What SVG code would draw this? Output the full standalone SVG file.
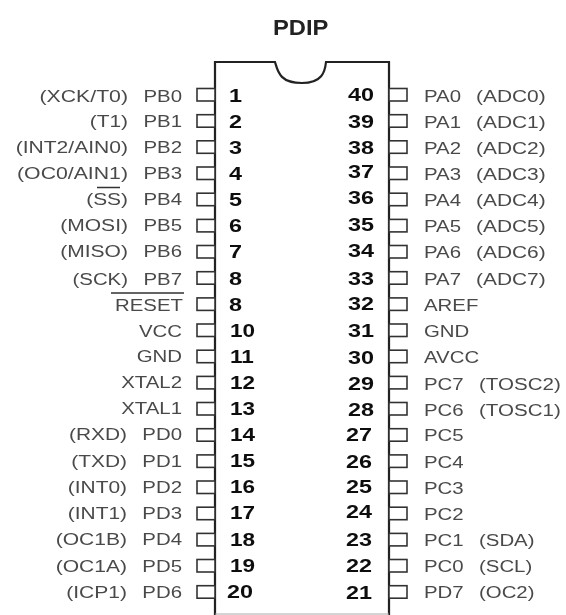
<svg xmlns="http://www.w3.org/2000/svg" width="566" height="615" viewBox="0 0 566 615">
<defs><filter id="soft" x="-5%" y="-5%" width="110%" height="110%"><feGaussianBlur stdDeviation="0.7"/></filter></defs>
<style>
text{font-family:"Liberation Sans",Arial,sans-serif}
.l,.r{font-size:17px;fill:#4a4a4a}
.l{text-anchor:end}
.e{text-anchor:end}
.n{font-size:18px;font-weight:700;fill:#111}
.t{font-size:22px;fill:#222;font-weight:700}
.p{fill:#fff;stroke:#333;stroke-width:1.6}
.b{fill:none;stroke:#222;stroke-width:2.2}
.o{fill:none;stroke:#333;stroke-width:1.6}
</style>
<rect width="566" height="615" fill="#fff"/>
<g filter="url(#soft)">
<text id="title" class="t" transform="translate(273 35) scale(1.08 1)">PDIP</text>
<g id="chip"><path class="b" d="M215 615V62H275C278 72 280 83 302 83C322 83 325 72 326 62H389V615"/><path d="M215 614H389" fill="none" stroke="#aaa" stroke-width="1.2"/></g>
<g id="connectors">
<path class="o" d="M97 187.500H120M111 293H184"/>
</g>
<g id="pin1"><rect class="p" x="197" y="88.500" width="18" height="12.500"/><text class="l" transform="translate(182 102) scale(1.2 1)">PB0</text><text class="l" transform="translate(128 102) scale(1.25 1)">(XCK/T0)</text><text class="n" transform="translate(229 102) scale(1.3 1)">1</text></g>
<g id="pin2"><rect class="p" x="197" y="114.700" width="18" height="12.500"/><text class="l" transform="translate(182 127) scale(1.2 1)">PB1</text><text class="l" transform="translate(128 127) scale(1.23 1)">(T1)</text><text class="n" transform="translate(229 128) scale(1.3 1)">2</text></g>
<g id="pin3"><rect class="p" x="197" y="140.800" width="18" height="12.500"/><text class="l" transform="translate(182 153) scale(1.2 1)">PB2</text><text class="l" transform="translate(128 153) scale(1.24 1)">(INT2/AIN0)</text><text class="n" transform="translate(229 154) scale(1.3 1)">3</text></g>
<g id="pin4"><rect class="p" x="197" y="167" width="18" height="12.500"/><text class="l" transform="translate(182 179) scale(1.2 1)">PB3</text><text class="l" transform="translate(128 179) scale(1.25 1)">(OC0/AIN1)</text><text class="n" transform="translate(229 180) scale(1.3 1)">4</text></g>
<g id="pin5"><rect class="p" x="197" y="193.200" width="18" height="12.500"/><text class="l" transform="translate(182 205) scale(1.2 1)">PB4</text><text class="l" transform="translate(128 205) scale(1.23 1)">(SS)</text><text class="n" transform="translate(229 206) scale(1.3 1)">5</text></g>
<g id="pin6"><rect class="p" x="197" y="219.400" width="18" height="12.500"/><text class="l" transform="translate(182 231) scale(1.2 1)">PB5</text><text class="l" transform="translate(128 231) scale(1.24 1)">(MOSI)</text><text class="n" transform="translate(229 232) scale(1.3 1)">6</text></g>
<g id="pin7"><rect class="p" x="197" y="245.500" width="18" height="12.500"/><text class="l" transform="translate(182 257) scale(1.2 1)">PB6</text><text class="l" transform="translate(128 257) scale(1.24 1)">(MISO)</text><text class="n" transform="translate(229 258) scale(1.3 1)">7</text></g>
<g id="pin8"><rect class="p" x="197" y="271.700" width="18" height="12.500"/><text class="l" transform="translate(182 285) scale(1.2 1)">PB7</text><text class="l" transform="translate(128 285) scale(1.2 1)">(SCK)</text><text class="n" transform="translate(229 285) scale(1.3 1)">8</text></g>
<g id="pin9"><rect class="p" x="197" y="297.900" width="18" height="12.500"/><text class="l" transform="translate(183 311) scale(1.2 1)">RESET</text><text class="n" transform="translate(229 311) scale(1.3 1)">8</text></g>
<g id="pin10"><rect class="p" x="197" y="324" width="18" height="12.500"/><text class="l" transform="translate(182 337) scale(1.2 1)">VCC</text><text class="n" transform="translate(230 337) scale(1.25 1)">10</text></g>
<g id="pin11"><rect class="p" x="197" y="350.200" width="18" height="12.500"/><text class="l" transform="translate(182 362) scale(1.2 1)">GND</text><text class="n" transform="translate(230 363) scale(1.25 1)">11</text></g>
<g id="pin12"><rect class="p" x="197" y="376.400" width="18" height="12.500"/><text class="l" transform="translate(182 388) scale(1.2 1)">XTAL2</text><text class="n" transform="translate(230 389) scale(1.25 1)">12</text></g>
<g id="pin13"><rect class="p" x="197" y="402.500" width="18" height="12.500"/><text class="l" transform="translate(182 414) scale(1.2 1)">XTAL1</text><text class="n" transform="translate(230 415) scale(1.25 1)">13</text></g>
<g id="pin14"><rect class="p" x="197" y="428.700" width="18" height="12.500"/><text class="l" transform="translate(182 440) scale(1.2 1)">PD0</text><text class="l" transform="translate(127 440) scale(1.23 1)">(RXD)</text><text class="n" transform="translate(230 441) scale(1.25 1)">14</text></g>
<g id="pin15"><rect class="p" x="197" y="454.900" width="18" height="12.500"/><text class="l" transform="translate(182 467) scale(1.2 1)">PD1</text><text class="l" transform="translate(127 467) scale(1.23 1)">(TXD)</text><text class="n" transform="translate(230 467) scale(1.25 1)">15</text></g>
<g id="pin16"><rect class="p" x="197" y="481" width="18" height="12.500"/><text class="l" transform="translate(182 493) scale(1.2 1)">PD2</text><text class="l" transform="translate(127 493) scale(1.23 1)">(INT0)</text><text class="n" transform="translate(230 493) scale(1.25 1)">16</text></g>
<g id="pin17"><rect class="p" x="197" y="507.200" width="18" height="12.500"/><text class="l" transform="translate(182 519) scale(1.2 1)">PD3</text><text class="l" transform="translate(127 519) scale(1.23 1)">(INT1)</text><text class="n" transform="translate(230 519) scale(1.25 1)">17</text></g>
<g id="pin18"><rect class="p" x="197" y="533.400" width="18" height="12.500"/><text class="l" transform="translate(182 545) scale(1.2 1)">PD4</text><text class="l" transform="translate(127 545) scale(1.24 1)">(OC1B)</text><text class="n" transform="translate(230 546) scale(1.25 1)">18</text></g>
<g id="pin19"><rect class="p" x="197" y="559.500" width="18" height="12.500"/><text class="l" transform="translate(182 572) scale(1.2 1)">PD5</text><text class="l" transform="translate(127 572) scale(1.24 1)">(OC1A)</text><text class="n" transform="translate(230 572) scale(1.25 1)">19</text></g>
<g id="pin20"><rect class="p" x="197" y="585.700" width="18" height="12.500"/><text class="l" transform="translate(182 598) scale(1.2 1)">PD6</text><text class="l" transform="translate(127 598) scale(1.24 1)">(ICP1)</text><text class="n" transform="translate(227 598) scale(1.3 1)">20</text></g>
<g id="pin40"><rect class="p" x="389" y="88.500" width="18" height="12.500"/><text class="n e" transform="translate(374 101) scale(1.3 1)">40</text><text class="r" transform="translate(424 102) scale(1.2 1)">PA0</text><text class="r" transform="translate(476 102) scale(1.23 1)">(ADC0)</text></g>
<g id="pin39"><rect class="p" x="389" y="114.700" width="18" height="12.500"/><text class="n e" transform="translate(374 128) scale(1.3 1)">39</text><text class="r" transform="translate(424 128) scale(1.2 1)">PA1</text><text class="r" transform="translate(476 128) scale(1.23 1)">(ADC1)</text></g>
<g id="pin38"><rect class="p" x="389" y="140.800" width="18" height="12.500"/><text class="n e" transform="translate(374 154) scale(1.3 1)">38</text><text class="r" transform="translate(424 154) scale(1.2 1)">PA2</text><text class="r" transform="translate(476 154) scale(1.23 1)">(ADC2)</text></g>
<g id="pin37"><rect class="p" x="389" y="167" width="18" height="12.500"/><text class="n e" transform="translate(374 178) scale(1.3 1)">37</text><text class="r" transform="translate(424 180) scale(1.2 1)">PA3</text><text class="r" transform="translate(476 180) scale(1.23 1)">(ADC3)</text></g>
<g id="pin36"><rect class="p" x="389" y="193.200" width="18" height="12.500"/><text class="n e" transform="translate(374 204) scale(1.3 1)">36</text><text class="r" transform="translate(424 206) scale(1.2 1)">PA4</text><text class="r" transform="translate(476 206) scale(1.23 1)">(ADC4)</text></g>
<g id="pin35"><rect class="p" x="389" y="219.400" width="18" height="12.500"/><text class="n e" transform="translate(374 231) scale(1.3 1)">35</text><text class="r" transform="translate(424 232) scale(1.2 1)">PA5</text><text class="r" transform="translate(476 232) scale(1.23 1)">(ADC5)</text></g>
<g id="pin34"><rect class="p" x="389" y="245.500" width="18" height="12.500"/><text class="n e" transform="translate(374 257) scale(1.3 1)">34</text><text class="r" transform="translate(424 258) scale(1.2 1)">PA6</text><text class="r" transform="translate(476 258) scale(1.23 1)">(ADC6)</text></g>
<g id="pin33"><rect class="p" x="389" y="271.700" width="18" height="12.500"/><text class="n e" transform="translate(374 285) scale(1.3 1)">33</text><text class="r" transform="translate(424 285) scale(1.2 1)">PA7</text><text class="r" transform="translate(476 285) scale(1.23 1)">(ADC7)</text></g>
<g id="pin32"><rect class="p" x="389" y="297.900" width="18" height="12.500"/><text class="n e" transform="translate(374 310) scale(1.3 1)">32</text><text class="r" transform="translate(424 311) scale(1.2 1)">AREF</text></g>
<g id="pin31"><rect class="p" x="389" y="324" width="18" height="12.500"/><text class="n e" transform="translate(374 337) scale(1.3 1)">31</text><text class="r" transform="translate(424 337) scale(1.2 1)">GND</text></g>
<g id="pin30"><rect class="p" x="389" y="350.200" width="18" height="12.500"/><text class="n e" transform="translate(374 364) scale(1.3 1)">30</text><text class="r" transform="translate(424 363) scale(1.2 1)">AVCC</text></g>
<g id="pin29"><rect class="p" x="389" y="376.400" width="18" height="12.500"/><text class="n e" transform="translate(374 390) scale(1.3 1)">29</text><text class="r" transform="translate(424 390) scale(1.2 1)">PC7</text><text class="r" transform="translate(479 390) scale(1.21 1)">(TOSC2)</text></g>
<g id="pin28"><rect class="p" x="389" y="402.500" width="18" height="12.500"/><text class="n e" transform="translate(374 416) scale(1.3 1)">28</text><text class="r" transform="translate(424 416) scale(1.2 1)">PC6</text><text class="r" transform="translate(479 416) scale(1.21 1)">(TOSC1)</text></g>
<g id="pin27"><rect class="p" x="389" y="428.700" width="18" height="12.500"/><text class="n e" transform="translate(372 441) scale(1.3 1)">27</text><text class="r" transform="translate(424 441) scale(1.2 1)">PC5</text></g>
<g id="pin26"><rect class="p" x="389" y="454.900" width="18" height="12.500"/><text class="n e" transform="translate(372 468) scale(1.3 1)">26</text><text class="r" transform="translate(424 468) scale(1.2 1)">PC4</text></g>
<g id="pin25"><rect class="p" x="389" y="481" width="18" height="12.500"/><text class="n e" transform="translate(372 493) scale(1.3 1)">25</text><text class="r" transform="translate(424 494) scale(1.2 1)">PC3</text></g>
<g id="pin24"><rect class="p" x="389" y="507.200" width="18" height="12.500"/><text class="n e" transform="translate(372 518) scale(1.3 1)">24</text><text class="r" transform="translate(424 520) scale(1.2 1)">PC2</text></g>
<g id="pin23"><rect class="p" x="389" y="533.400" width="18" height="12.500"/><text class="n e" transform="translate(372 546) scale(1.3 1)">23</text><text class="r" transform="translate(424 546) scale(1.2 1)">PC1</text><text class="r" transform="translate(479 546) scale(1.2 1)">(SDA)</text></g>
<g id="pin22"><rect class="p" x="389" y="559.500" width="18" height="12.500"/><text class="n e" transform="translate(372 572) scale(1.3 1)">22</text><text class="r" transform="translate(424 572) scale(1.2 1)">PC0</text><text class="r" transform="translate(479 572) scale(1.2 1)">(SCL)</text></g>
<g id="pin21"><rect class="p" x="389" y="585.700" width="18" height="12.500"/><text class="n e" transform="translate(372 599) scale(1.3 1)">21</text><text class="r" transform="translate(424 598) scale(1.2 1)">PD7</text><text class="r" transform="translate(479 598) scale(1.2 1)">(OC2)</text></g>
</g>
</svg>
